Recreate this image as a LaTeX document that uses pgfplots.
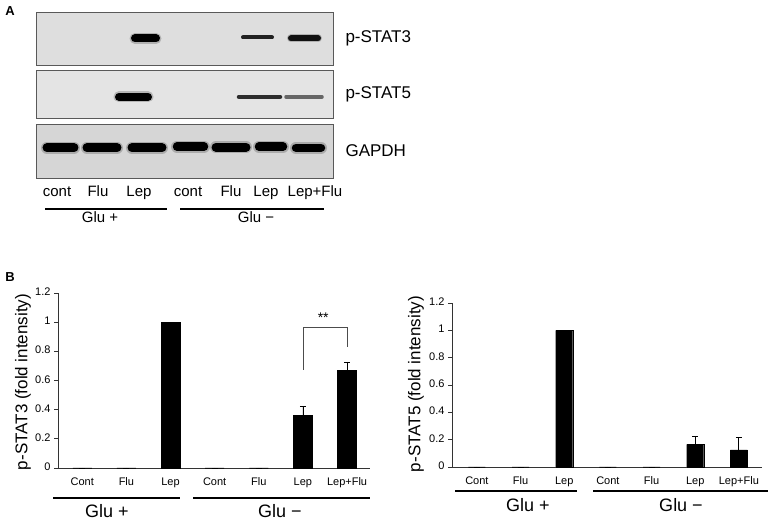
\documentclass[border=0pt]{standalone}
\usepackage{fontspec}
\setmainfont{Liberation Sans}
\usepackage{pgfplots}
\pgfplotsset{compat=1.18}
\definecolor{blotA}{RGB}{222,222,222}
\definecolor{blotB}{RGB}{228,228,228}
\definecolor{blotC}{RGB}{214,214,214}

\pgfplotsset{
  blot/.style={scale only axis, width=297pt, xmin=36, xmax=333, ymin=0, ymax=1,
    xtick=\empty, ytick=\empty, axis line style={draw=black!65, line width=0.8pt}},
  band/.style={black, line cap=round, line width=#1},
  halo/.style={black, line cap=round, line width=#1, opacity=0.2},
  bars/.style={scale only axis, axis lines*=left, axis line style={black!80, line width=0.7pt},
    ymin=0, ymax=1.2, ytick={0,0.2,0.4,0.6,0.8,1,1.2}, yticklabels={0,0.2,0.4,0.6,0.8,1,1.2},
    xtick={0,1,2,3,4,5,6}, xticklabels={Cont,Flu,Lep,Cont,Flu,Lep,Lep+Flu},
    x tick style={draw=none}, y tick style={black!80, line width=0.7pt},
    tick align=outside, major tick length=4pt,
    tick label style={font=\fontsize{11}{13}\selectfont},
    typeset ticklabels with strut,
    xticklabel style={yshift=-1pt},
    clip=false},
  errs/.style={error bars/.cd, y dir=plus, y explicit,
    error bar style={line width=0.8pt, black},
    error mark options={rotate=90, mark size=3pt, line width=0.8pt, black}},
}
\newcommand{\fs}[1]{\fontsize{#1}{#1}\selectfont}

\begin{document}
\begin{tikzpicture}[x=1pt,y=1pt]
\useasboundingbox (0,0) rectangle (771,521);

% ---- panel A: blots
\node[font=\bfseries\fs{13}] at (10,510) {A};

\begin{axis}[blot, at={(36pt,456pt)}, anchor=south west, height=53pt,
  axis background/.style={fill=blotA}]
\addplot[halo=11pt] coordinates {(135,0.5)(156,0.5)};
\addplot[band=8pt] coordinates {(135,0.5)(156,0.5)};
\addplot[band=4pt, opacity=0.85] coordinates {(243,0.52)(272,0.52)};
\addplot[halo=8pt] coordinates {(291,0.5)(318,0.5)};
\addplot[band=6pt, opacity=0.9] coordinates {(291,0.5)(318,0.5)};
\end{axis}

\begin{axis}[blot, at={(36pt,403pt)}, anchor=south west, height=48pt,
  axis background/.style={fill=blotB}]
\addplot[halo=11pt] coordinates {(119,0.44)(148,0.44)};
\addplot[band=8pt] coordinates {(119,0.44)(148,0.44)};
\addplot[band=4.5pt, opacity=0.8] coordinates {(239,0.44)(280,0.44)};
\addplot[band=3.5pt, opacity=0.55] coordinates {(286,0.44)(322,0.44)};
\end{axis}

\begin{axis}[blot, at={(36pt,343pt)}, anchor=south west, height=54pt,
  axis background/.style={fill=blotC}]
\addplot[halo=12pt] coordinates {(47,0.56)(74,0.56)};
\addplot[band=9pt] coordinates {(47,0.56)(74,0.56)};
\addplot[halo=12pt] coordinates {(87,0.56)(117,0.56)};
\addplot[band=9pt] coordinates {(87,0.56)(117,0.56)};
\addplot[halo=12pt] coordinates {(132,0.56)(162,0.56)};
\addplot[band=9pt] coordinates {(132,0.56)(162,0.56)};
\addplot[halo=12pt] coordinates {(177,0.58)(204,0.58)};
\addplot[band=8.5pt] coordinates {(177,0.58)(204,0.58)};
\addplot[halo=12pt] coordinates {(216,0.57)(246,0.57)};
\addplot[band=9pt] coordinates {(216,0.57)(246,0.57)};
\addplot[halo=12pt] coordinates {(259,0.58)(283,0.58)};
\addplot[band=8.5pt] coordinates {(259,0.58)(283,0.58)};
\addplot[halo=12pt] coordinates {(296,0.56)(321,0.56)};
\addplot[band=8.5pt] coordinates {(296,0.56)(321,0.56)};
\end{axis}

\node[anchor=west, font=\fs{17}] at (342,483) {p-STAT3};
\node[anchor=west, font=\fs{17}] at (342,427) {p-STAT5};
\node[anchor=west, font=\fs{17}] at (342,370) {GAPDH};

\foreach \x/\t in {57/cont,98/Flu,139/Lep,188/cont,231/Flu,266/Lep,315/Lep+Flu}
  \node[anchor=base, font=\fs{15}] at (\x,324) {\t};
\draw[line width=1.5pt] (45,312) -- (167,312);
\draw[line width=1.5pt] (180,312) -- (324,312);
\node[anchor=base, font=\fs{15}] at (100,298) {Glu +};
\node[anchor=base, font=\fs{15}] at (256,298) {Glu −};

% ---- panel B
\node[font=\bfseries\fs{13}] at (10,244) {B};

\begin{axis}[bars, at={(58pt,53pt)}, anchor=south west, width=312pt, height=175pt,
  xmin=-0.55, xmax=6.52]
\addplot[ybar, bar width=19pt, bar shift=0pt, fill=black, draw=black, errs]
  coordinates {(0,0) +- (0,0) (1,0) +- (0,0) (2,1) +- (0,0) (3,0) +- (0,0)
               (4,0) +- (0,0) (5,0.36) +- (0,0.062) (6,0.67) +- (0,0.057)};
\addplot[black!70, line width=0.7pt] coordinates {(5,0.672)(5,0.967)(6,0.967)(6,0.83)};
\node[font=\fs{14}] at (axis cs:5.46,1.03) {**};
\end{axis}
\node[rotate=90, font=\fs{17}] at (23,139) {p-STAT3 (fold intensity)};
\draw[line width=1.8pt] (53,23) -- (180,23);
\draw[line width=1.8pt] (193,23) -- (370,23);
\node[anchor=base, inner sep=0pt, font=\fs{18}] at (107,3) {Glu +};
\node[anchor=base, inner sep=0pt, font=\fs{18}] at (280,3) {Glu −};

\begin{axis}[bars, at={(452pt,54pt)}, anchor=south west, width=310pt, height=164pt,
  xmin=-0.57, xmax=6.53]
\addplot[ybar, bar width=17pt, bar shift=0pt, fill=black, draw=black, errs]
  coordinates {(0,0) +- (0,0) (1,0) +- (0,0) (2,1) +- (0,0) (3,0) +- (0,0)
               (4,0) +- (0,0) (5,0.165) +- (0,0.06) (6,0.125) +- (0,0.09)};
\end{axis}
\node[rotate=90, font=\fs{17}] at (416,137) {p-STAT5 (fold intensity)};
\draw[line width=1.8pt] (455,30) -- (577,30);
\draw[line width=1.8pt] (593,30) -- (768,30);
\node[anchor=base, inner sep=0pt, font=\fs{18}] at (528,9) {Glu +};
\node[anchor=base, inner sep=0pt, font=\fs{18}] at (681,9) {Glu −};
\end{tikzpicture}
\end{document}
